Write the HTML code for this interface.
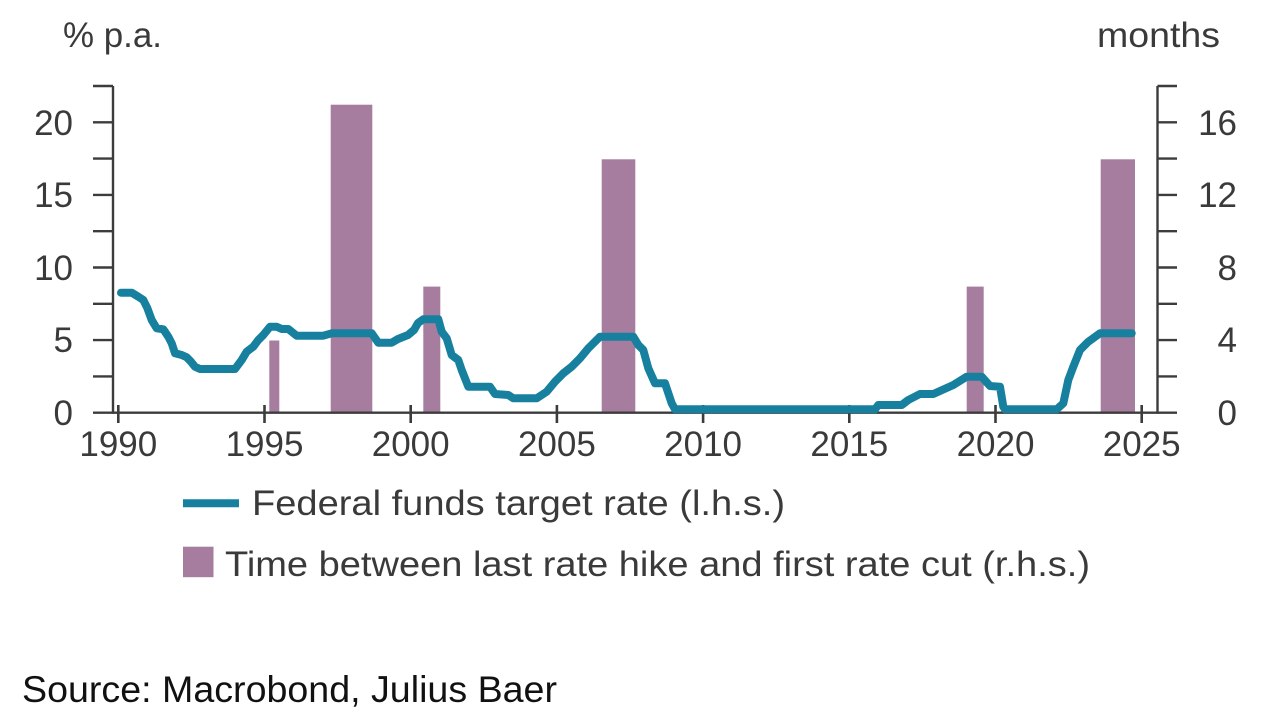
<!DOCTYPE html>
<html>
<head>
<meta charset="utf-8">
<style>
  html, body { margin: 0; padding: 0; background: #ffffff; }
  body { width: 1279px; height: 725px; overflow: hidden; }
  svg { display: block; }
  text { font-family: "Liberation Sans", "DejaVu Sans", sans-serif; }
</style>
</head>
<body>
<svg width="1279" height="725" viewBox="0 0 1279 725" xmlns="http://www.w3.org/2000/svg">
  <rect x="0" y="0" width="1279" height="725" fill="#ffffff"/>

  <!-- Axis titles -->
  <text x="63" y="47" font-size="35" fill="#3a3a3a" textLength="99" lengthAdjust="spacingAndGlyphs">% p.a.</text>
  <text x="1097" y="47" font-size="35" fill="#3a3a3a" textLength="123" lengthAdjust="spacingAndGlyphs">months</text>

  <!-- Bars (r.h.s.) -->
  <g fill="#a67d9f">
    <rect x="269.3" y="340.5" width="10" height="72.2"/>
    <rect x="330.7" y="104.7" width="41.6" height="308"/>
    <rect x="423.3" y="286.6" width="17" height="126.1"/>
    <rect x="601.7" y="159.3" width="33.6" height="253.4"/>
    <rect x="966.7" y="286.6" width="17" height="126.1"/>
    <rect x="1100.7" y="159.3" width="34.3" height="253.4"/>
  </g>

  <!-- Axes -->
  <g stroke="#3c3c3c" stroke-width="2.4" fill="none">
    <line x1="113" y1="86" x2="113" y2="413.7"/>
    <line x1="1157.5" y1="86" x2="1157.5" y2="413.7"/>
    <line x1="93" y1="412.7" x2="1157.5" y2="412.7"/>
    <line x1="93" y1="86.0" x2="113" y2="86.0"/>
    <line x1="93" y1="122.3" x2="113" y2="122.3"/>
    <line x1="93" y1="158.6" x2="113" y2="158.6"/>
    <line x1="93" y1="194.9" x2="113" y2="194.9"/>
    <line x1="93" y1="231.2" x2="113" y2="231.2"/>
    <line x1="93" y1="267.5" x2="113" y2="267.5"/>
    <line x1="93" y1="303.8" x2="113" y2="303.8"/>
    <line x1="93" y1="340.1" x2="113" y2="340.1"/>
    <line x1="93" y1="376.4" x2="113" y2="376.4"/>
    <line x1="1157.5" y1="86.0" x2="1177" y2="86.0"/>
    <line x1="1157.5" y1="122.3" x2="1177" y2="122.3"/>
    <line x1="1157.5" y1="158.6" x2="1177" y2="158.6"/>
    <line x1="1157.5" y1="194.9" x2="1177" y2="194.9"/>
    <line x1="1157.5" y1="231.2" x2="1177" y2="231.2"/>
    <line x1="1157.5" y1="267.5" x2="1177" y2="267.5"/>
    <line x1="1157.5" y1="303.8" x2="1177" y2="303.8"/>
    <line x1="1157.5" y1="340.1" x2="1177" y2="340.1"/>
    <line x1="1157.5" y1="376.4" x2="1177" y2="376.4"/>
    <line x1="1157.5" y1="412.7" x2="1177" y2="412.7"/>
  </g>
  <!-- x ticks -->
  <g stroke="#3c3c3c" stroke-width="2.6">
    <line x1="118.3" y1="405" x2="118.3" y2="423"/>
    <line x1="264.5" y1="405" x2="264.5" y2="423"/>
    <line x1="410.7" y1="405" x2="410.7" y2="423"/>
    <line x1="556.9" y1="405" x2="556.9" y2="423"/>
    <line x1="703.1" y1="405" x2="703.1" y2="423"/>
    <line x1="849.3" y1="405" x2="849.3" y2="423"/>
    <line x1="995.5" y1="405" x2="995.5" y2="423"/>
    <line x1="1141.7" y1="405" x2="1141.7" y2="423"/>
  </g>

  <!-- Fed funds line -->
  <polyline fill="none" stroke="#17809f" stroke-width="8" stroke-linejoin="round" stroke-linecap="round"
    points="121,292.7 131.7,292.7 138.3,296.7 143.3,300 147.3,308 151.7,320 156.7,328.3 163.3,329.3 168.3,336.7 171.7,343.3 175,353.3 181.7,355 186.7,357.3 191,361.7 195,366.7 200,369 235,369 241.7,360 246.7,351.7 253.3,346.7 258.3,340 263.3,335 270,326.7 276.7,326.7 281.7,329 288.3,329 296.7,335.7 323.3,335.7 331.7,333.3 371.7,333.3 378.3,342.7 391.7,342.7 398,339 408,335 414,330 418,323 423.3,319.3 438.3,319.3 441.7,331.7 446.7,338.3 451.7,355 458.3,360 461.7,370 468.3,386.7 490,386.7 495,394 508.3,395 513.3,398.3 536.7,398.3 546.7,391.7 555,381.7 563.3,373.3 571.7,366.7 580,358.3 588.3,348.3 600,336.7 633.3,336.7 638.3,345 643.3,350 648.3,368.3 655,383.3 665,383.3 671.7,403.3 675,409.3 875,409.3 878.3,405 901.7,405 908.3,400 920,394 933.3,394 953.3,385 966.7,376.7 981.7,376.7 990,386 1000,386.7 1003.3,406.7 1005,409.3 1056.7,409.3 1063.3,403.3 1068.3,380 1073.3,366.7 1080,350 1088.3,341.7 1100,333.3 1131.7,333.3"/>

  <!-- Left tick labels -->
  <g font-size="35" fill="#3a3a3a" text-anchor="end">
    <text x="73" y="135">20</text>
    <text x="73" y="207">15</text>
    <text x="73" y="280">10</text>
    <text x="73" y="352">5</text>
    <text x="73" y="425">0</text>
  </g>
  <!-- Right tick labels -->
  <g font-size="35" fill="#3a3a3a" text-anchor="end">
    <text x="1237" y="135">16</text>
    <text x="1237" y="207">12</text>
    <text x="1237" y="280">8</text>
    <text x="1237" y="352">4</text>
    <text x="1237" y="425">0</text>
  </g>
  <!-- X labels -->
  <g font-size="35" fill="#3a3a3a" text-anchor="middle">
    <text x="118.3" y="456">1990</text>
    <text x="264.5" y="456">1995</text>
    <text x="410.7" y="456">2000</text>
    <text x="556.9" y="456">2005</text>
    <text x="703.1" y="456">2010</text>
    <text x="849.3" y="456">2015</text>
    <text x="995.5" y="456">2020</text>
    <text x="1141.7" y="456">2025</text>
  </g>

  <!-- Legend -->
  <line x1="183" y1="503.3" x2="239" y2="503.3" stroke="#17809f" stroke-width="8"/>
  <text x="252" y="515" font-size="35" fill="#3a3a3a" textLength="533" lengthAdjust="spacingAndGlyphs">Federal funds target rate (l.h.s.)</text>
  <rect x="183" y="546.7" width="30.5" height="30.5" fill="#a67d9f"/>
  <text x="225" y="576" font-size="35" fill="#3a3a3a" textLength="865" lengthAdjust="spacingAndGlyphs">Time between last rate hike and first rate cut (r.h.s.)</text>

  <!-- Source -->
  <text x="22" y="702" font-size="37" fill="#111111" textLength="535" lengthAdjust="spacingAndGlyphs">Source: Macrobond, Julius Baer</text>
</svg>
</body>
</html>
